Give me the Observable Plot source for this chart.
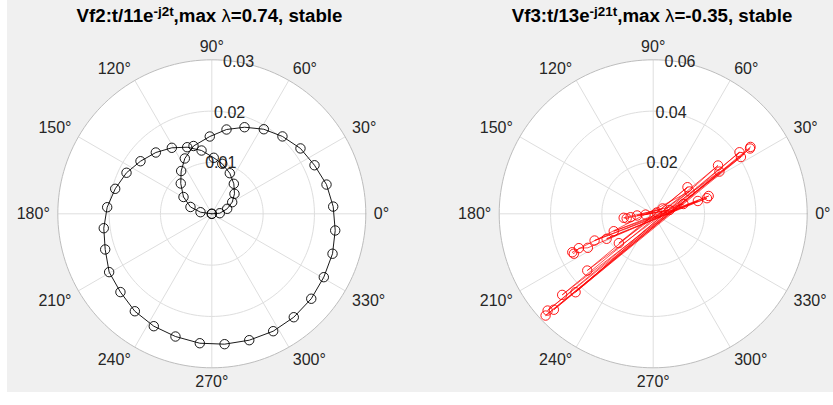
<!DOCTYPE html>
<html><head><meta charset="utf-8">
<script src="https://cdn.jsdelivr.net/npm/d3@7"></script>
<script src="https://cdn.jsdelivr.net/npm/@observablehq/plot@0.6"></script>
<style>
body{margin:0;background:#fff;}
#fig{position:relative;width:833px;height:405px;background:#fff;overflow:hidden;font-family:"Liberation Sans",Arial,sans-serif;}
#bg{position:absolute;left:7px;top:0;width:826px;height:392px;background:#f0f0f0;}
.title{position:absolute;top:7px;font-weight:bold;font-size:18.7px;line-height:18.7px;color:#000;white-space:nowrap;transform:translateX(-50%);}
.title sup{font-size:0.72em;line-height:0;vertical-align:0.42em;}
.title .lam{font-weight:normal;}
.panel{position:absolute;top:0;}
</style></head><body>
<div id="fig"><div id="bg"></div>
<div class="title" style="left:209.5px">Vf2:t/11e<sup>-j2t</sup>,max <span class="lam">λ</span>=0.74, stable</div>
<div class="title" style="left:652px">Vf3:t/13e<sup>-j21t</sup>,max <span class="lam">λ</span>=-0.35, stable</div>
</div>
<script>
// ---- data (angles in degrees, radii in data units) ----
const angleTicks = [0, 30, 60, 90, 120, 150, 180, 210, 240, 270, 300, 330];
const vf2RTicks = [0.01, 0.02, 0.03];
const vf3RTicks = [0.02, 0.04, 0.06];

const vf2Theta = [183, 171.9, 162.3, 149.3, 135.7, 125.6, 116.0, 105.1, 91.5, 80.1, 69.3, 58.4, 47.6, 36.4, 25.3, 14.3, 3.4, -7.7, -18.3, -29.5, -40.5, -51.6, -62.4, -73.5, -84.4, -95.3, -106.5, -117.3, -128.3, -139.4, -150.4, -161.5, -172.4, -183.6, -194.5, -205.7, -216.4, -227.6, -238.8, -249.7, -260.8, -272.0, -281.8, -293.9, -306.3, -318.6, -330.4, -342.0, -355.7, -367];
const vf2R = [0, 0.00222, 0.00436, 0.00641, 0.00845, 0.01025, 0.01199, 0.01368, 0.01506, 0.01667, 0.01803, 0.01934, 0.02041, 0.02146, 0.02213, 0.02306, 0.02369, 0.02426, 0.02477, 0.02507, 0.02548, 0.02571, 0.02581, 0.02568, 0.02552, 0.02532, 0.02493, 0.02464, 0.02419, 0.02344, 0.02300, 0.02190, 0.02123, 0.02042, 0.01944, 0.01844, 0.01726, 0.01617, 0.01503, 0.01383, 0.01249, 0.01092, 0.00995, 0.00865, 0.00725, 0.00589, 0.00457, 0.00315, 0.00156, 0];

const vf3Theta = [20, 186, 29.7, 186, 13, 188.5, 190, 187.7, 17.9, 203.8, 16, 208.2, 16.2, 204.5, 17.8, 207.5, 204.8, 206.7, 205.4, 31.6, 220.5, 37.8, 220.7, 32.5, 225.3, 36.7, 221.7, 32.9, 224, 35.5, 222.5, 34, 223.4, 34.5];
const vf3R = [0.0015, 0.0030, 0.0042, 0.0063, 0.0065, 0.0089, 0.0105, 0.0116, 0.0124, 0.0168, 0.0181, 0.0206, 0.0218, 0.0251, 0.0227, 0.0287, 0.0319, 0.0346, 0.0349, 0.0166, 0.0176, 0.0169, 0.0339, 0.0306, 0.0430, 0.0315, 0.0475, 0.0407, 0.0538, 0.0413, 0.0558, 0.0455, 0.0577, 0.0460];

// ---- drawing ----
const cosd = a => Math.cos(a * Math.PI / 180);
const sind = a => Math.sin(a * Math.PI / 180);

function polarPanel(o) {
  const rmax = d3.max(o.rTicks);
  const s = o.rPx / rmax;
  const pts = o.theta.map((t, i) => ({x: o.r[i] * cosd(t), y: o.r[i] * sind(t)}));
  const circ = v => d3.range(0, 361, 2).map(a => ({ring: v, x: v * cosd(a), y: v * sind(a)}));
  const inner = o.rTicks.filter(v => v < rmax).flatMap(circ);
  const outer = circ(rmax);
  const lr = rmax + 8 / s;
  const labs = angleTicks.map(a => ({
    a, x: lr * cosd(a), y: lr * sind(a),
    ta: cosd(a) > 0.1 ? "start" : cosd(a) < -0.1 ? "end" : "middle",
    la: sind(a) > 0.1 ? "bottom" : sind(a) < -0.1 ? "top" : "middle"
  }));
  const groups = d3.groups(labs, d => d.ta + "|" + d.la);
  const grid = "#dedede";
  const marks = [
    Plot.line(outer, {x: "x", y: "y", fill: "#ffffff", stroke: "none"}),
    Plot.line(inner, {x: "x", y: "y", z: "ring", stroke: grid, strokeWidth: 1}),
    Plot.link(angleTicks, {x1: () => 0, y1: () => 0, x2: a => rmax * cosd(a), y2: a => rmax * sind(a), stroke: grid, strokeWidth: 1}),
    Plot.line(outer, {x: "x", y: "y", stroke: "#bdbdbd", strokeWidth: 1}),
    Plot.text(o.rTicks, {x: v => v * cosd(80), y: v => v * sind(80), text: v => String(v), fontSize: 16, fill: "#262626"}),
    ...groups.map(([k, arr]) => Plot.text(arr, {x: "x", y: "y", text: d => d.a + "°", textAnchor: arr[0].ta, lineAnchor: arr[0].la, fontSize: 16, fill: "#262626"})),
    Plot.line(pts, {x: "x", y: "y", stroke: o.color, strokeWidth: o.lineWidth, curve: "linear"}),
    Plot.dot(pts, {x: "x", y: "y", r: 4.7, stroke: o.color, fill: "none", strokeWidth: 0.9})
  ];
  const svg = Plot.plot({
    width: o.width, height: o.height,
    marginTop: 0, marginRight: 0, marginBottom: 0, marginLeft: 0,
    x: {domain: [-o.cx / s, (o.width - o.cx) / s], axis: null},
    y: {domain: [-(o.height - o.cy) / s, o.cy / s], axis: null},
    style: {background: "transparent", fontFamily: "'Liberation Sans', Arial, sans-serif", overflow: "visible"},
    marks
  });
  const wrap = document.createElement("div");
  wrap.className = "panel";
  wrap.style.left = o.left + "px";
  wrap.appendChild(svg);
  document.getElementById("fig").appendChild(wrap);
}

polarPanel({left: 0, width: 416, height: 392, cx: 211.3, cy: 213.3, rPx: 154, rTicks: vf2RTicks, theta: vf2Theta, r: vf2R, color: "#000000", lineWidth: 0.9});
polarPanel({left: 416, width: 417, height: 392, cx: 236.7, cy: 213.3, rPx: 154, rTicks: vf3RTicks, theta: vf3Theta, r: vf3R, color: "#ff0000", lineWidth: 0.7});
</script>
</body></html>
